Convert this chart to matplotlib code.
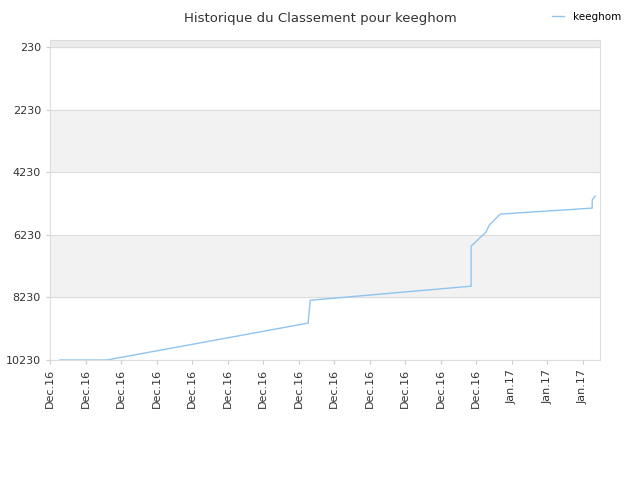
import matplotlib
matplotlib.use("Agg")
import matplotlib.pyplot as plt

tick_labels = ["Dec.16"]*13 + ["Jan.17"]*3
xs = [0.28, 1.6, 7.27, 7.33, 11.86, 11.86, 12.28, 12.37, 12.51, 12.68, 15.27, 15.27, 15.35]
ys = [10230, 10230, 9050, 8320, 7870, 6590, 6140, 5920, 5760, 5565, 5374, 5118, 4990]
yticks = [230, 2230, 4230, 6230, 8230, 10230]

fig = plt.figure(figsize=(6.4, 4.8), dpi=100)
ax = fig.add_axes([50/640, 120/480, 550/640, 320/480])
ax.set_ylim(10230, 0)
ax.set_xlim(0, 15.49)
ax.axhspan(0, 230, color="#ebebeb", zorder=0)
for a, b in [(2230, 4230), (6230, 8230)]:
    ax.axhspan(a, b, color="#f2f2f2", zorder=0)
for t in yticks:
    ax.axhline(t, color="#dddddd", lw=0.8, zorder=0.5)
ax.plot(xs, ys, color="#90c4f0", lw=1, label="keeghom")
ax.set_yticks(yticks)
ax.set_yticklabels([str(t) for t in yticks], fontsize=8, color="#333333")
ax.set_xticks(range(16))
ax.set_xticklabels(tick_labels, rotation=90, fontsize=8, color="#333333")
ax.tick_params(length=3, color="#cccccc")
for s in ax.spines.values():
    s.set_color("#dddddd")
fig.text(0.5, 0.975, "Historique du Classement pour keeghom", ha="center", va="top", fontsize=9.5, color="#333333")
fig.legend(loc="upper right", bbox_to_anchor=(0.985, 0.995), frameon=False, fontsize=7.5, handlelength=1.2)
fig.savefig("out.png")
